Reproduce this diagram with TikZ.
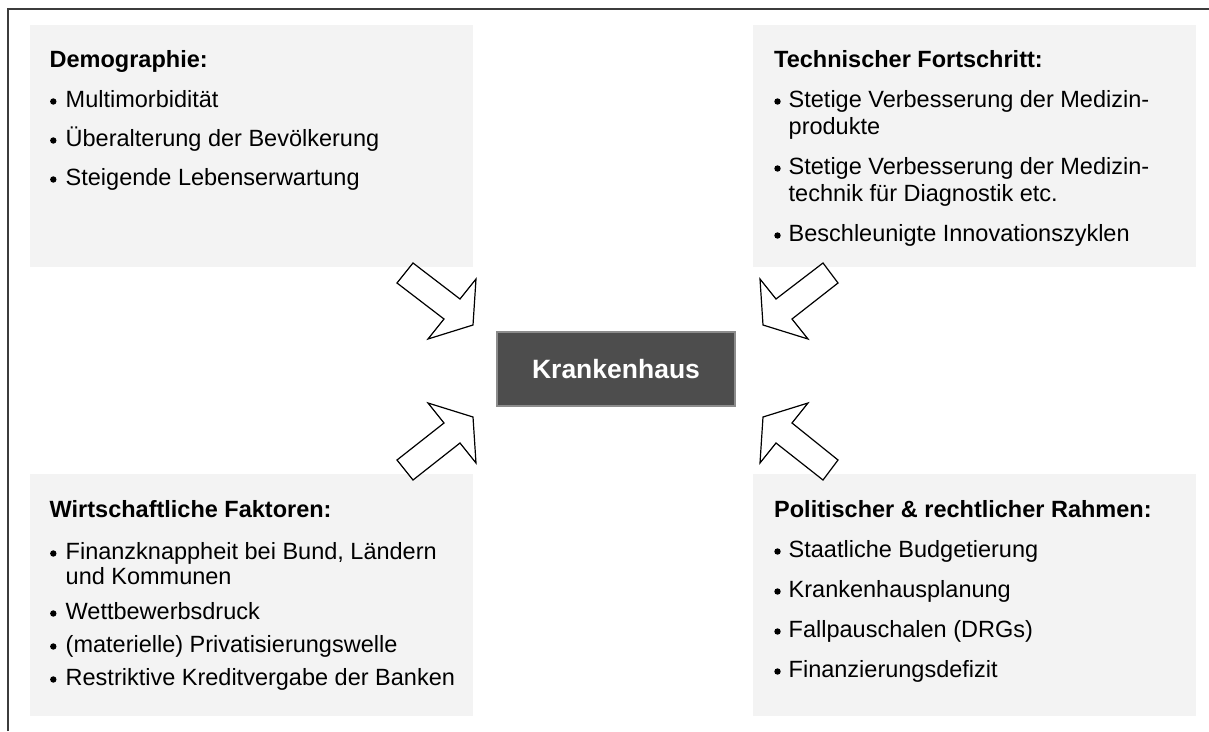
\documentclass[tikz,border=0pt]{standalone}
\usepackage{fontspec}
\setmainfont{Liberation Sans}
\definecolor{boxgray}{RGB}{243,243,243}
\definecolor{centergray}{RGB}{77,77,77}
\definecolor{centerborder}{RGB}{140,140,140}
\definecolor{framegray}{RGB}{60,60,60}
\begin{document}
\begin{tikzpicture}[x=1pt,y=-1pt,
  bg/.style={fill=boxgray, draw=none, inner sep=0pt, outer sep=0pt, anchor=north west, minimum width=443pt, minimum height=242pt},
  head/.style={anchor=base west, inner sep=0pt, font=\fontsize{23.5}{27}\selectfont\bfseries},
  txt/.style={anchor=base west, inner sep=0pt, font=\fontsize{23.5}{27}\selectfont},
  bul/.style={circle, fill=black, inner sep=0pt, minimum size=6.4pt},
  inarrow/.style={draw=black, fill=white, line width=1.2pt, line join=miter}]
\useasboundingbox (0,0) rectangle (1209,731);
% frame
\draw[framegray, line width=2pt] (8,731) -- (8,9) -- (1209,9);
% boxes
\node[bg] (tl) at (30,25) {};
\node[bg] (tr) at (753,25) {};
\node[bg] (bl) at (30,474) {};
\node[bg] (br) at (753,474) {};
% centre
\node[fill=centergray, draw=centerborder, line width=1.5pt, minimum width=238pt, minimum height=74pt, inner sep=0pt,
  font=\fontsize{26.5}{30}\selectfont\bfseries, text=white] (kh) at (616,369) {Krankenhaus};
% arrows
\draw[inarrow] (397,283) -- (413,263) -- (460,299) -- (476,279) -- (473,325) -- (428,339) -- (444,319) -- cycle;
\draw[inarrow] (397,460) -- (413,480) -- (460,443) -- (476,463) -- (473,417) -- (428,403) -- (444,423) -- cycle;
\draw[inarrow] (838,283) -- (823,263) -- (776,299) -- (760,279) -- (763,325) -- (808,339) -- (792,319) -- cycle;
\draw[inarrow] (838,460) -- (823,480) -- (776,443) -- (760,463) -- (763,417) -- (808,403) -- (792,423) -- cycle;
% top left
\node[head] (tlh) at (49.5,67) {Demographie:};
\node[bul] (tlb1) at (53.3,101.5) {};
\node[txt] (tlt1) at (65.5,107) {Multimorbidität};
\node[bul] (tlb2) at (53.3,140.5) {};
\node[txt] (tlt2) at (65.5,146) {Überalterung der Bevölkerung};
\node[bul] (tlb3) at (53.3,179.5) {};
\node[txt] (tlt3) at (65.5,185) {Steigende Lebenserwartung};
% top right
\node[head] (trh) at (774,67) {Technischer Fortschritt:};
\node[bul] (trb1) at (777.5,101.5) {};
\node[txt] (trt1) at (788.5,107) {Stetige Verbesserung der Medizin-};
\node[txt] (trt1b) at (788.5,134) {produkte};
\node[bul] (trb2) at (777.5,168.5) {};
\node[txt] (trt2) at (788.5,174) {Stetige Verbesserung der Medizin-};
\node[txt] (trt2b) at (788.5,201) {technik für Diagnostik etc.};
\node[bul] (trb3) at (777.5,235.5) {};
\node[txt] (trt3) at (788.5,241) {Beschleunigte Innovationszyklen};
% bottom left
\node[head] (blh) at (49.5,517) {Wirtschaftliche Faktoren:};
\node[bul] (blb1) at (53.3,553.5) {};
\node[txt] (blt1) at (65.5,559) {Finanzknappheit bei Bund, Ländern};
\node[txt] (blt1b) at (65.5,584) {und Kommunen};
\node[bul] (blb2) at (53.3,613.5) {};
\node[txt] (blt2) at (65.5,619) {Wettbewerbsdruck};
\node[bul] (blb3) at (53.3,646.5) {};
\node[txt] (blt3) at (65.5,652) {(materielle) Privatisierungswelle};
\node[bul] (blb4) at (53.3,679.5) {};
\node[txt] (blt4) at (65.5,685) {Restriktive Kreditvergabe der Banken};
% bottom right
\node[head] (brh) at (774,517) {Politischer \& rechtlicher Rahmen:};
\node[bul] (brb1) at (777.5,551.5) {};
\node[txt] (brt1) at (788.5,557) {Staatliche Budgetierung};
\node[bul] (brb2) at (777.5,591.5) {};
\node[txt] (brt2) at (788.5,597) {Krankenhausplanung};
\node[bul] (brb3) at (777.5,631.5) {};
\node[txt] (brt3) at (788.5,637) {Fallpauschalen (DRGs)};
\node[bul] (brb4) at (777.5,671.5) {};
\node[txt] (brt4) at (788.5,677) {Finanzierungsdefizit};
\end{tikzpicture}
\end{document}
